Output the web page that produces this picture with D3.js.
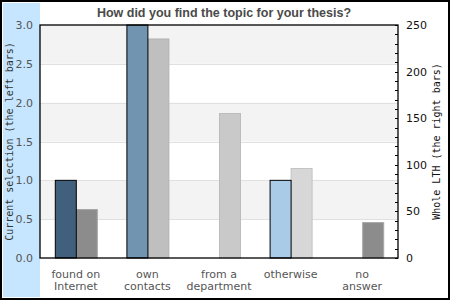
<!DOCTYPE html>
<html>
<head>
<meta charset="utf-8">
<script src="https://cdn.jsdelivr.net/npm/d3@7"></script>
<style>
  html, body { margin: 0; padding: 0; background: #fff; }
  svg { display: block; }
</style>
</head>
<body>
<div id="chart"></div>
<script>
// data
const categories = [["found on", "Internet"], ["own", "contacts"], ["from a", "department"], ["otherwise"], ["no", "answer"]];
const leftValues = [1, 3, 0, 1, 0];
const rightValues = [52, 235, 155, 96, 38];
const leftTicks = [0, 0.5, 1, 1.5, 2, 2.5, 3];
const rightTicks = [0, 50, 100, 150, 200, 250];

(function () {
  const W = 450, H = 300;
  const M = { left: 40, right: 398, top: 25, bottom: 258 };
  const SANS = '"DejaVu Sans", sans-serif';
  const MONO = '"DejaVu Sans Mono", monospace';

  const leftFill = ["#41607d", "#7195b1", "#9fc0da", "#a9cbe8", "#bcd8ee"];
  const rightFill = ["#8c8c8c", "#bfbfbf", "#c9c9c9", "#d7d7d7", "#8c8c8c"];
  const rightStroke = ["#a6a6a6", "#b3b3b3", "#bcbcbc", "#c3c3c3", "#a6a6a6"];

  const svg = d3.select("#chart").append("svg")
    .attr("width", W).attr("height", H);

  // left strip
  svg.append("rect")
    .attr("x", 3).attr("y", 3).attr("width", M.left - 3).attr("height", H - 6)
    .attr("fill", "#c6e6ff");

  const x = d3.scaleBand()
    .domain(d3.range(categories.length))
    .range([M.left, M.right]);

  const yL = d3.scaleLinear().domain([0, 3]).range([M.bottom, M.top]);
  const yR = d3.scaleLinear().domain([0, 250]).range([M.bottom, M.top]);

  // alternating bands
  for (let i = 0; i < leftTicks.length - 1; i++) {
    if ((leftTicks.length - 2 - i) % 2 === 0) {
      svg.append("rect")
        .attr("x", M.left).attr("width", M.right - M.left)
        .attr("y", yL(leftTicks[i + 1]))
        .attr("height", yL(leftTicks[i]) - yL(leftTicks[i + 1]))
        .attr("fill", "#f3f3f3");
    }
  }

  svg.append("g").selectAll("line")
    .data(leftTicks.slice(1, -1))
    .join("line")
    .attr("x1", M.left).attr("x2", M.right)
    .attr("y1", d => Math.round(yL(d)) + 0.5)
    .attr("y2", d => Math.round(yL(d)) + 0.5)
    .attr("stroke", "#e0e0e0");

  const barW = 21;

  // right (grey) bars
  svg.append("g").selectAll("rect")
    .data(rightValues)
    .join("rect")
    .attr("x", (d, i) => x(i) + x.bandwidth() / 2 + 0.5)
    .attr("y", d => yR(d))
    .attr("width", barW)
    .attr("height", d => M.bottom - yR(d))
    .attr("fill", (d, i) => rightFill[i])
    .attr("stroke", (d, i) => rightStroke[i]);

  // left (blue) bars, zero values not drawn
  const leftData = leftValues.map((v, i) => ({ v, i })).filter(d => d.v > 0);
  svg.append("g").selectAll("rect")
    .data(leftData)
    .join("rect")
    .attr("x", d => x(d.i) + x.bandwidth() / 2 - barW + 0.5)
    .attr("y", d => yL(d.v))
    .attr("width", barW)
    .attr("height", d => M.bottom - yL(d.v))
    .attr("fill", d => leftFill[d.i])
    .attr("stroke", "#000");

  // plot frame
  svg.append("rect")
    .attr("x", M.left).attr("y", M.top)
    .attr("width", M.right - M.left).attr("height", M.bottom - M.top)
    .attr("fill", "none").attr("stroke", "#000").attr("stroke-width", 1.3);

  // left axis
  const axL = svg.append("g")
    .attr("transform", `translate(${M.left},0)`)
    .call(d3.axisLeft(yL).tickValues(leftTicks).tickFormat(d3.format(".1f")).tickSize(0).tickPadding(7));
  axL.select(".domain").remove();
  axL.selectAll("text").attr("font-family", SANS).attr("font-size", 11).attr("fill", "#555");

  // right axis
  const axR = svg.append("g")
    .attr("transform", `translate(${M.right},0)`)
    .call(d3.axisRight(yR).tickValues(rightTicks).tickSize(0).tickPadding(8));
  axR.select(".domain").remove();
  axR.selectAll("text").attr("font-family", SANS).attr("font-size", 11).attr("fill", "#111");

  svg.append("g").selectAll("line")
    .data(d3.range(0, 251, 10))
    .join("line")
    .attr("x1", M.right - 3).attr("x2", M.right)
    .attr("y1", d => Math.round(yR(d)) + 0.5)
    .attr("y2", d => Math.round(yR(d)) + 0.5)
    .attr("stroke", "#000");

  // category labels
  const cat = svg.append("g").selectAll("text")
    .data(categories)
    .join("text")
    .attr("x", (d, i) => x(i) + x.bandwidth() / 2)
    .attr("y", 278)
    .attr("text-anchor", "middle")
    .attr("font-family", SANS).attr("font-size", 11).attr("fill", "#555");
  cat.selectAll("tspan")
    .data(d => d)
    .join("tspan")
    .attr("x", function () { return this.parentNode.getAttribute("x"); })
    .attr("dy", (d, i) => i === 0 ? 0 : 12)
    .text(d => d);

  // title
  svg.append("text")
    .attr("x", 224).attr("y", 17)
    .attr("text-anchor", "middle")
    .attr("font-family", '"Liberation Sans", Arial, sans-serif')
    .attr("font-weight", "bold").attr("font-size", 12.5).attr("fill", "#4a4a4a")
    .text("How did you find the topic for your thesis?");

  // axis titles
  svg.append("text")
    .attr("transform", `translate(13,${(M.top + M.bottom) / 2}) rotate(-90)`)
    .attr("text-anchor", "middle")
    .attr("font-family", MONO).attr("font-size", 10).attr("fill", "#333")
    .text("Current selection (the left bars)");

  svg.append("text")
    .attr("transform", `translate(440,${(M.top + M.bottom) / 2}) rotate(-90)`)
    .attr("text-anchor", "middle")
    .attr("font-family", MONO).attr("font-size", 10).attr("fill", "#111")
    .text("Whole LTH (the right bars)");

  // outer frame
  svg.append("rect")
    .attr("x", 1).attr("y", 1).attr("width", W - 2).attr("height", H - 2)
    .attr("fill", "none").attr("stroke", "#000").attr("stroke-width", 2);
})();
</script>
</body>
</html>
